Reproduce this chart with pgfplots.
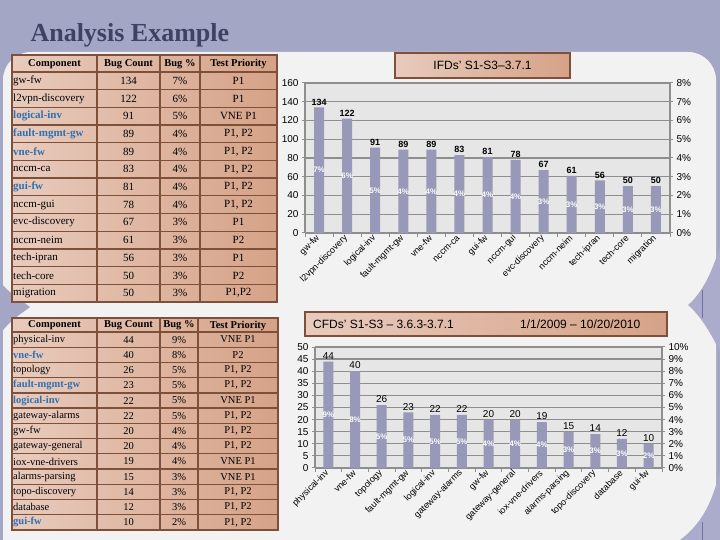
\documentclass[border=0pt]{standalone}
\usepackage{pgfplots}
\pgfplotsset{compat=1.18}
\usepackage{fontspec}
\setmainfont{Liberation Sans}
\newfontfamily\serif{Liberation Serif}
\definecolor{pagebg}{HTML}{A4A6C6}
\definecolor{curl}{HTML}{ABACCB}
\definecolor{panel}{HTML}{F2F2F2}
\definecolor{plotbg}{HTML}{E6E6E6}
\definecolor{barc}{HTML}{9898B8}
\definecolor{gridc}{HTML}{8E8E8E}
\definecolor{tblL}{HTML}{E8CBBD}
\definecolor{tblR}{HTML}{D5A287}
\definecolor{tblline}{HTML}{7E503A}
\definecolor{titlec}{HTML}{3F4262}
\definecolor{linkblue}{HTML}{2F6FB0}
\newcommand\B[1]{\textcolor{linkblue}{\bfseries #1}}
\pgfplotsset{
  chartbase/.style={
    scale only axis, anchor=south west,
    xmin=-0.5, xmax=12.5, xtick={0,...,12},
    axis background/.style={fill=plotbg},
    ymajorgrids, grid style={gridc, line width=1.2pt},
    axis line style={gridc, line width=1.2pt},
    tick style={gridc, line width=1pt},
    major tick length=3pt, minor tick length=4pt,
    tick align=outside,
    every major x tick/.append style={draw=none},
    minor xtick={-0.5,0.5,...,12.5},
    x tick label style={rotate=45, anchor=east, font=\fontsize{9}{10}\selectfont, inner sep=1pt},
    y tick label style={font=\fontsize{10}{11}\selectfont},
    /pgf/number format/assume math mode=true,
    axis y line*=left, axis x line*=bottom,
  },
  rightaxis/.style={
    scale only axis, anchor=south west,
    xmin=-0.5, xmax=12.5, axis x line=none, axis y line*=right,
    axis line style={gridc, line width=1.2pt},
    tick style={gridc, line width=1pt}, major tick length=3pt, tick align=outside,
    yticklabel={\pgfmathprintnumber{\tick}\%},
    y tick label style={font=\fontsize{10}{11}\selectfont},
    /pgf/number format/assume math mode=true,
  },
}
\begin{document}
\begin{tikzpicture}[x=1pt,y=1pt]
\useasboundingbox (0,0) rectangle (720,540);
\fill[pagebg] (0,0) rectangle (720,540);
\begin{scope}[shift={(0,540)},yscale=-1]
\fill[panel, rounded corners=28pt] (3,52) rectangle (716,575);
% side wedges / page curls
\fill[pagebg] (0,282) .. controls (12,296) and (24,302) .. (30,307) .. controls (24,312) and (12,318) .. (0,334) -- cycle;
\fill[curl] (720,245) .. controls (712,275) and (700,295) .. (688,305) .. controls (700,315) and (712,335) .. (720,352) -- cycle;
\draw[gridc!80!blue, line width=0.8pt] (702,290) -- (702,318);
\fill[curl] (720,470) .. controls (712,505) and (700,525) .. (680,540) -- (720,540) -- cycle;
\draw[gridc!80!blue, line width=0.8pt] (702,522) -- (702,540);
\node[anchor=base west, font=\serif\bfseries\fontsize{26}{30}\selectfont, text=titlec] at (27,42) {Analysis Example};
% ---------- top table
\shade[left color=tblL, right color=tblR] (12,55) rectangle (277,302);
\begin{scope}[draw=tblline, line width=1.3pt]
\draw (12,55) rectangle (277,302);
\foreach \k in {0,...,12} {\draw (12,{72+\k*17.69}) -- (277,{72+\k*17.69});}
\foreach \xx in {97,160,200} {\draw (\xx,55) -- (\xx,302);}
\end{scope}
\begin{scope}[every node/.style={font=\serif\bfseries\fontsize{10.5}{12}\selectfont}]
\node at (54.5,64) {Component};
\node at (128.5,64) {Bug Count};
\node at (180,64) {Bug \%};
\node at (238.5,64) {Test Priority};
\end{scope}
\foreach \n/\c/\p/\t [count=\i from 0] in {
 gw-fw/134/7\%/P1, l2vpn-discovery/122/6\%/P1, \B{logical-inv}/91/5\%/VNE P1,
 \B{fault-mgmt-gw}/89/4\%/{P1, P2}, \B{vne-fw}/89/4\%/{P1, P2}, nccm-ca/83/4\%/{P1, P2},
 \B{gui-fw}/81/4\%/{P1, P2}, nccm-gui/78/4\%/{P1, P2}, evc-discovery/67/3\%/P1,
 nccm-neim/61/3\%/P2, tech-ipran/56/3\%/P1, tech-core/50/3\%/P2, migration/50/3\%/{P1,P2}} {
 \pgfmathsetmacro\yy{72+(\i+0.5)*17.69}
 \node[anchor=west, inner sep=1pt, font=\serif\fontsize{11}{12}\selectfont] at (12,\yy) {\n};
 \node[font=\serif\fontsize{11}{12}\selectfont] at (128.5,\yy) {\c};
 \node[font=\serif\fontsize{11}{12}\selectfont] at (180,\yy) {\p};
 \node[font=\serif\fontsize{11}{12}\selectfont] at (238.5,\yy) {\t};
}
% ---------- bottom table
\shade[left color=tblL, right color=tblR] (12,318) rectangle (278,530);
\begin{scope}[draw=tblline, line width=1.3pt]
\draw (12,318) rectangle (278,530);
\foreach \k in {0,...,12} {\draw (12,{332+\k*15.23}) -- (278,{332+\k*15.23});}
\foreach \xx in {97,160,198} {\draw (\xx,318) -- (\xx,530);}
\end{scope}
\begin{scope}[every node/.style={font=\serif\bfseries\fontsize{10.5}{12}\selectfont}]
\node at (54.5,325.5) {Component};
\node at (128.5,325.5) {Bug Count};
\node at (179,325.5) {Bug \%};
\node at (238,325.5) {Test Priority};
\end{scope}
\foreach \n/\c/\p/\t [count=\i from 0] in {
 physical-inv/44/9\%/VNE P1, \B{vne-fw}/40/8\%/P2, topology/26/5\%/{P1, P2},
 \B{fault-mgmt-gw}/23/5\%/{P1, P2}, \B{logical-inv}/22/5\%/VNE P1, gateway-alarms/22/5\%/{P1, P2},
 gw-fw/20/4\%/{P1, P2}, gateway-general/20/4\%/{P1, P2}, iox-vne-drivers/19/4\%/VNE P1,
 alarms-parsing/15/3\%/VNE P1, topo-discovery/14/3\%/{P1, P2}, database/12/3\%/{P1, P2},
 \B{gui-fw}/10/2\%/{P1, P2}} {
 \pgfmathsetmacro\yy{332+(\i+0.5)*15.23}
 \node[anchor=west, inner sep=1pt, font=\serif\fontsize{10.5}{12}\selectfont] at (12,\yy) {\n};
 \node[font=\serif\fontsize{10.5}{12}\selectfont] at (128.5,\yy) {\c};
 \node[font=\serif\fontsize{10.5}{12}\selectfont] at (179,\yy) {\p};
 \node[font=\serif\fontsize{10.5}{12}\selectfont] at (238,\yy) {\t};
}
% ---------- chart title boxes
\shade[left color=tblL, right color=tblR] (395,53) rectangle (570,78);
\draw[tblline, line width=1.3pt] (395,53) rectangle (570,78);
\node[font=\fontsize{12}{14}\selectfont] at (482.5,65.5) {IFDs’ S1-S3–3.7.1};
\shade[left color=tblL, right color=tblR] (305,312) rectangle (667,336);
\draw[tblline, line width=1.3pt] (305,312) rectangle (667,336);
\node[anchor=west, inner sep=0pt, font=\fontsize{12}{14}\selectfont] at (313,324) {CFDs’ S1-S3 – 3.6.3-3.7.1};
\node[anchor=west, inner sep=0pt, font=\fontsize{12}{14}\selectfont] at (520,324) {1/1/2009 – 10/20/2010};
\end{scope}

% ---------- top chart
\begin{axis}[chartbase, at={(305pt,307pt)}, width=365pt, height=150pt,
  ymin=0, ymax=160, ytick={0,20,...,160},
  xticklabels={gw-fw, l2vpn-discovery, logical-inv, fault-mgmt-gw, vne-fw, nccm-ca, gui-fw, nccm-gui, evc-discovery, nccm-neim, tech-ipran, tech-core, migration}]
\addplot[ybar, bar width=10pt, fill=barc, draw=none, nodes near coords,
  nodes near coords style={font=\bfseries\fontsize{9}{10}\selectfont, text=black, inner sep=2pt}]
  coordinates {(0,134)(1,122)(2,91)(3,89)(4,89)(5,83)(6,81)(7,78)(8,67)(9,61)(10,56)(11,50)(12,50)};
\addplot[draw=none, mark=none, nodes near coords, point meta=explicit symbolic,
  nodes near coords style={anchor=center, font=\bfseries\fontsize{8}{9}\selectfont, text=white}]
  coordinates {(0,67)[7\%] (1,61)[6\%] (2,45.5)[5\%] (3,44.5)[4\%] (4,44.5)[4\%] (5,41.5)[4\%] (6,40.5)[4\%] (7,39)[4\%] (8,33.5)[3\%] (9,30.5)[3\%] (10,28)[3\%] (11,25)[3\%] (12,25)[3\%]};
\end{axis}
\begin{axis}[rightaxis, at={(305pt,307pt)}, width=365pt, height=150pt, ymin=0, ymax=8, ytick={0,...,8}]
\addplot[draw=none] coordinates {(0,0)};
\end{axis}

% ---------- bottom chart
\begin{axis}[chartbase, at={(315pt,72pt)}, width=347pt, height=121pt,
  ymin=0, ymax=50, ytick={0,5,...,50},
  xticklabels={physical-inv, vne-fw, topology, fault-mgmt-gw, logical-inv, gateway-alarms, gw-fw, gateway-general, iox-vne-drivers, alarms-parsing, topo-discovery, database, gui-fw}]
\addplot[ybar, bar width=10pt, fill=barc, draw=none, nodes near coords,
  nodes near coords style={font=\fontsize{10}{11}\selectfont, text=black, inner sep=2pt}]
  coordinates {(0,44)(1,40)(2,26)(3,23)(4,22)(5,22)(6,20)(7,20)(8,19)(9,15)(10,14)(11,12)(12,10)};
\addplot[draw=none, mark=none, nodes near coords, point meta=explicit symbolic,
  nodes near coords style={anchor=center, font=\bfseries\fontsize{8}{9}\selectfont, text=white}]
  coordinates {(0,22)[9\%] (1,20)[8\%] (2,13)[5\%] (3,11.5)[5\%] (4,11)[5\%] (5,11)[5\%] (6,10)[4\%] (7,10)[4\%] (8,9.5)[4\%] (9,7.5)[3\%] (10,7)[3\%] (11,6)[3\%] (12,5)[2\%]};
\end{axis}
\begin{axis}[rightaxis, at={(315pt,72pt)}, width=347pt, height=121pt, ymin=0, ymax=10, ytick={0,...,10}]
\addplot[draw=none] coordinates {(0,0)};
\end{axis}
\end{tikzpicture}
\end{document}
